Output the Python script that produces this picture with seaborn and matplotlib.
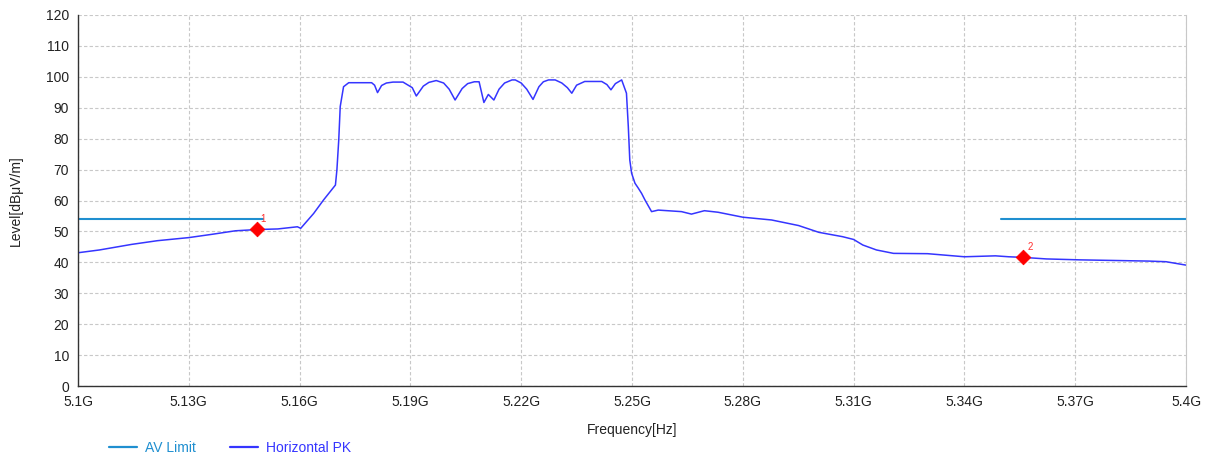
import numpy as np
import pandas as pd
import matplotlib
matplotlib.use("Agg")
import matplotlib.pyplot as plt
from matplotlib.lines import Line2D
import seaborn as sns

# Horizontal PK trace (frequency in GHz, level in dBuV/m)
pk_freq = [5.1000, 5.1058, 5.1145, 5.1215, 5.1300, 5.1365, 5.1426, 5.1484, 5.1541, 5.1594,
           5.1603, 5.1638, 5.1665, 5.1697, 5.1701, 5.1706, 5.1710, 5.1719, 5.1733, 5.1795,
           5.1803, 5.1811, 5.1822, 5.1835, 5.1853, 5.1880, 5.1905, 5.1916, 5.1935, 5.1950,
           5.1970, 5.1990, 5.2005, 5.2021, 5.2040, 5.2055, 5.2073, 5.2086, 5.2099, 5.2111,
           5.2126, 5.2140, 5.2155, 5.2175, 5.2184, 5.2200, 5.2215, 5.2232, 5.2248, 5.2260,
           5.2274, 5.2292, 5.2310, 5.2325, 5.2337, 5.2350, 5.2372, 5.2418, 5.2432, 5.2443,
           5.2455, 5.2472, 5.2485, 5.2490, 5.2494, 5.2499, 5.2508, 5.2517, 5.2526, 5.2535,
           5.2553, 5.2571, 5.2634, 5.2661, 5.2696, 5.2733, 5.2800, 5.2878, 5.2951, 5.3006,
           5.3070, 5.3100, 5.3125, 5.3162, 5.3208, 5.3300, 5.3400, 5.3484, 5.3520, 5.3559,
           5.3622, 5.3713, 5.3900, 5.3946, 5.4000]
pk_level = [43.1, 44.0, 45.8, 47.0, 48.0, 49.1, 50.2, 50.6, 50.8, 51.5,
            51.0, 55.8, 60.2, 65.0, 69.9, 79.6, 90.4, 96.8, 98.1, 98.1,
            97.3, 94.9, 97.2, 98.0, 98.3, 98.3, 96.5, 93.8, 97.0, 98.2,
            98.8, 98.0, 96.0, 92.5, 96.2, 97.8, 98.4, 98.4, 91.7, 94.3,
            92.5, 96.0, 98.0, 99.0, 99.0, 98.0, 96.0, 92.7, 96.8, 98.4,
            99.0, 99.0, 98.0, 96.5, 94.7, 97.3, 98.5, 98.5, 97.5, 95.8,
            97.8, 99.0, 94.7, 83.9, 73.1, 68.8, 65.6, 64.0, 62.3, 60.2,
            56.4, 56.9, 56.4, 55.6, 56.7, 56.2, 54.6, 53.7, 51.9, 49.7,
            48.3, 47.4, 45.6, 44.0, 42.9, 42.8, 41.8, 42.1, 41.8, 41.6,
            41.1, 40.8, 40.4, 40.2, 39.1]

# AV limit segments
limit_freq = [5.10, 5.15, 5.35, 5.40]
limit_level = [54, 54, 54, 54]
limit_seg = ["low", "low", "high", "high"]

# markers
marker_freq = [5.1484, 5.3559]
marker_level = [50.9, 41.6]
marker_names = ["1", "2"]

x_ticks = [5.10, 5.13, 5.16, 5.19, 5.22, 5.25, 5.28, 5.31, 5.34, 5.37, 5.40]
x_tick_labels = ["5.1G", "5.13G", "5.16G", "5.19G", "5.22G", "5.25G",
                 "5.28G", "5.31G", "5.34G", "5.37G", "5.4G"]
y_ticks = list(range(0, 121, 10))

pk_color = "#3535ff"
limit_color = "#1f8fd0"

sns.set_style("white")
plt.rcParams['font.family'] = ['Liberation Sans', 'DejaVu Sans']

pk_df = pd.DataFrame({"freq": pk_freq, "level": pk_level})
lim_df = pd.DataFrame({"freq": limit_freq, "level": limit_level, "seg": limit_seg})

fig = plt.figure(figsize=(12.08, 4.55), dpi=100)
ax = fig.add_axes([78 / 1208, 69 / 455, 1108 / 1208, 371 / 455])

sns.lineplot(data=lim_df, x="freq", y="level", units="seg", estimator=None,
             color=limit_color, linewidth=1.5, ax=ax, legend=False)
sns.lineplot(data=pk_df, x="freq", y="level", color=pk_color, linewidth=1.1,
             ax=ax, legend=False, sort=False)
sns.scatterplot(x=marker_freq, y=marker_level, marker="D", color="red", s=55,
                edgecolor="red", zorder=5, ax=ax)
for fx, fy, name in zip(marker_freq, marker_level, marker_names):
    ax.annotate(name, (fx, fy), xytext=(4, 7), textcoords="offset pixels",
                color="#ff3030", fontsize=7)

ax.set_xlim(5.1, 5.4)
ax.set_ylim(0, 120)
ax.set_xticks(x_ticks)
ax.set_xticklabels(x_tick_labels)
ax.set_yticks(y_ticks)
ax.tick_params(axis="both", labelsize=10, colors="#222222", length=3, width=0.8,
               direction="out")
ax.grid(True, linestyle=(0, (3, 2)), color="#c8c8c8", linewidth=0.8)

for side in ["left", "bottom"]:
    ax.spines[side].set_color("#333333")
    ax.spines[side].set_linewidth(1.0)
ax.spines["right"].set_color("#c8c8c8")
ax.spines["top"].set_visible(False)

ax.set_xlabel("Frequency[Hz]", fontsize=10, color="#222222")
ax.set_ylabel("Level[dBμV/m]", fontsize=10, color="#222222")
ax.xaxis.set_label_coords(0.5, -0.1)
ax.yaxis.set_label_coords(-0.05, 0.5)

handles = [Line2D([], [], color=limit_color, linewidth=1.6),
           Line2D([], [], color=pk_color, linewidth=1.6)]
leg = fig.legend(handles, ["AV Limit", "Horizontal PK"], loc="lower left",
                 bbox_to_anchor=(0.08, -0.028), ncol=2, frameon=False, fontsize=10,
                 handlelength=2.0, handletextpad=0.55, columnspacing=2.5)
for txt, col in zip(leg.get_texts(), [limit_color, pk_color]):
    txt.set_color(col)

fig.savefig("out.png", dpi=100)
